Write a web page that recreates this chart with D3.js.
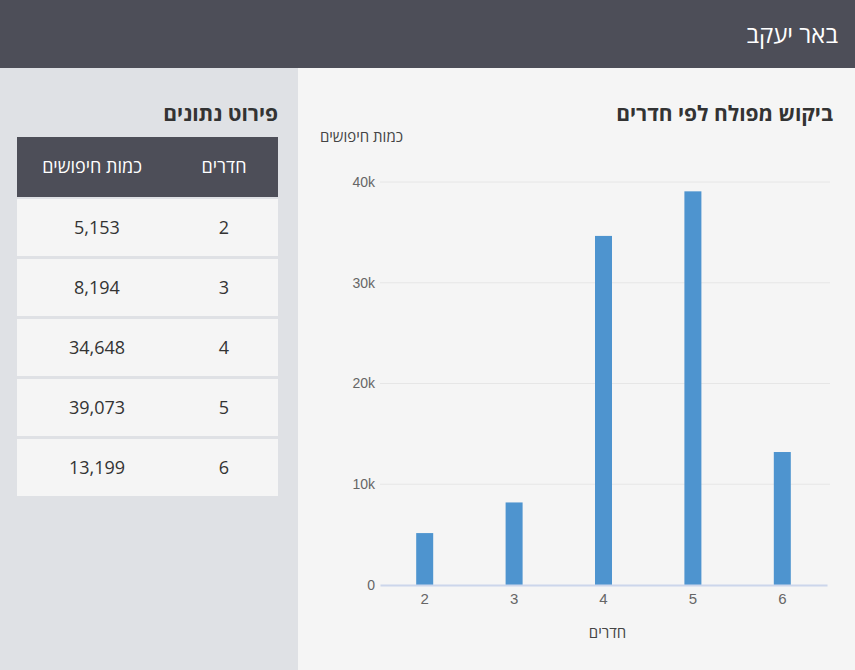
<!DOCTYPE html>
<html>
<head>
<meta charset="utf-8">
<script src="https://cdn.jsdelivr.net/npm/d3@7"></script>
<style>
  body { margin: 0; background: #f5f5f5; }
  svg { display: block; font-family: "Open Sans", "Liberation Sans", "DejaVu Sans", sans-serif; }
</style>
</head>
<body>
<div id="page"></div>
<script>
// data
let rooms = ["2", "3", "4", "5", "6"];
let searches = [5153, 8194, 34648, 39073, 13199];
let yTicks = [0, 10000, 20000, 30000, 40000];
let cityName = "באר יעקב";
let chartTitle = "ביקוש מפולח לפי חדרים";
let tableTitle = "פירוט נתונים";
let roomsLabel = "חדרים";
let searchesLabel = "כמות חיפושים";

let W = 855, H = 670;
let dark = "#4d4e58";

let svg = d3.select("#page").append("svg").attr("width", W).attr("height", H);

// backgrounds
svg.append("rect").attr("width", W).attr("height", H).attr("fill", "#f5f5f5");
svg.append("rect").attr("x", 0).attr("y", 68).attr("width", 298).attr("height", H - 68).attr("fill", "#dfe1e5");
svg.append("rect").attr("width", W).attr("height", 68).attr("fill", dark);

svg.append("text")
  .attr("x", 838).attr("y", 43)
  .attr("text-anchor", "end")
  .attr("fill", "#fff")
  .style("font-size", "24px")
  .text(cityName);

//chart
let margin = { top: 182, left: 380, right: 28, bottom: 85 };
let width = W - margin.left - margin.right,
  height = H - margin.top - margin.bottom;

let g = svg.append("g").attr("transform", "translate(" + margin.left + "," + margin.top + ")");

let x = d3.scaleBand().domain(rooms).range([0, width]).padding(0);
let y = d3.scaleLinear().domain([0, 40000]).range([height, 0]);

// gridlines
g.append("g")
  .selectAll("line")
  .data(yTicks.slice(1))
  .enter()
  .append("line")
  .attr("x1", 0).attr("x2", width + 3)
  .attr("y1", (d) => y(d)).attr("y2", (d) => y(d))
  .attr("stroke", "#e6e6e6");

// y labels
g.append("g")
  .call(d3.axisLeft(y).tickValues(yTicks).tickSize(0).tickPadding(5)
    .tickFormat((d) => (d === 0 ? "0" : d / 1000 + "k")))
  .call((a) => a.select(".domain").remove())
  .selectAll("text")
  .attr("fill", "#666")
  .style("font-size", "14px");

// bars
let barW = 17;
g.append("g")
  .selectAll("rect")
  .data(searches)
  .enter()
  .append("rect")
  .attr("x", (d, i) => x(rooms[i]) + x.bandwidth() / 2 - barW / 2)
  .attr("y", (d) => y(d))
  .attr("width", barW)
  .attr("height", (d) => height - y(d))
  .attr("fill", "#4e94cf");

// x axis
let xAxis = g.append("g")
  .attr("transform", "translate(0," + height + ")")
  .call(d3.axisBottom(x).tickSize(0).tickPadding(8));
xAxis.select(".domain").attr("stroke", "#ccd6eb").attr("stroke-width", 2);
xAxis.selectAll("text").attr("fill", "#666").style("font-size", "15px");

g.append("text")
  .attr("x", width / 2 + 4).attr("y", height + 53)
  .attr("text-anchor", "middle")
  .attr("fill", "#444")
  .style("font-size", "15px")
  .text(roomsLabel);

g.append("text")
  .attr("x", 23).attr("y", -40)
  .attr("text-anchor", "end")
  .attr("fill", "#444")
  .style("font-size", "15px")
  .text(searchesLabel);

svg.append("text")
  .attr("x", 833).attr("y", 121)
  .attr("text-anchor", "end")
  .attr("fill", "#333")
  .style("font-size", "21px")
  .style("font-weight", "bold")
  .text(chartTitle);

// table
let tx = 17, tw = 261;
svg.append("text")
  .attr("x", 278).attr("y", 121)
  .attr("text-anchor", "end")
  .attr("fill", "#333")
  .style("font-size", "21px")
  .style("font-weight", "bold")
  .text(tableTitle);

svg.append("rect").attr("x", tx).attr("y", 137).attr("width", tw).attr("height", 60).attr("fill", dark);
svg.append("text").attr("x", 224).attr("y", 173).attr("text-anchor", "middle")
  .attr("fill", "#fff").style("font-size", "18px").text(roomsLabel);
svg.append("text").attr("x", 92).attr("y", 173).attr("text-anchor", "middle")
  .attr("fill", "#fff").style("font-size", "18px").text(searchesLabel);

let rows = svg.append("g")
  .selectAll("g")
  .data(rooms)
  .enter()
  .append("g")
  .attr("transform", (d, i) => "translate(" + tx + "," + (199 + i * 60) + ")");

rows.append("rect").attr("width", tw).attr("height", 57).attr("fill", "#f5f5f5");
rows.append("text")
  .attr("x", 224 - tx).attr("y", 35)
  .attr("text-anchor", "middle")
  .attr("fill", "#333")
  .style("font-size", "18px")
  .text((d) => d);
rows.append("text")
  .attr("x", 97 - tx).attr("y", 35)
  .attr("text-anchor", "middle")
  .attr("fill", "#333")
  .style("font-size", "18px")
  .text((d, i) => d3.format(",")(searches[i]));
</script>
</body>
</html>
